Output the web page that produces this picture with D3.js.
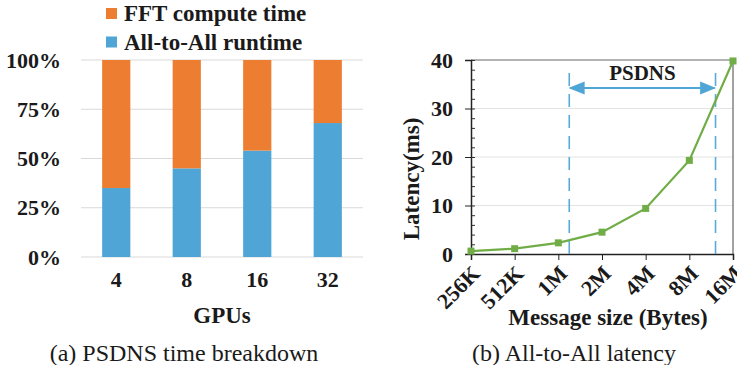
<!DOCTYPE html>
<html>
<head>
<meta charset="utf-8">
<script src="https://cdn.jsdelivr.net/npm/d3@7"></script>
<style>
  body { margin: 0; background: #fff; }
  svg { font-family: "Liberation Serif", "DejaVu Serif", serif; }
  .tick text { font-family: "Liberation Serif", serif; font-weight: bold; font-size: 22px; fill: #1a1a1a; }
</style>
</head>
<body>
<div id="chart"></div>
<script>
// data
var gpus = ["4", "8", "16", "32"];
var allToAll = [0.35, 0.45, 0.54, 0.68];
var fftCompute = [0.65, 0.55, 0.46, 0.32];
var pctTicks = [0, 0.25, 0.5, 0.75, 1];

var msgSizes = ["256K", "512K", "1M", "2M", "4M", "8M", "16M"];
var latency = [0.6, 1.1, 2.3, 4.5, 9.4, 19.3, 39.8];
var psdnsSpan = [2.25, 5.6]; // in message-size index units

var svg = d3.select("#chart").append("svg")
  .attr("width", 737)
  .attr("height", 365);

var orange = "#ED7D31", blue = "#4EA5D6", green = "#70AD47";

// ---------- (a) stacked bars ----------
var xBand = d3.scaleBand().domain(gpus).range([81, 363]).paddingInner(0.6).paddingOuter(0.3);
var yPct = d3.scaleLinear().domain([0, 1]).range([257, 60]);

var left = svg.append("g");

left.selectAll(".grid")
  .data(pctTicks)
  .enter().append("line")
  .attr("x1", 81).attr("x2", 363)
  .attr("y1", d => yPct(d)).attr("y2", d => yPct(d))
  .attr("stroke", "#d9d9d9").attr("stroke-width", 1);

var yAxisA = left.append("g")
  .attr("transform", "translate(81,0)")
  .call(d3.axisLeft(yPct).tickValues(pctTicks).tickFormat(d3.format(".0%")).tickSize(0).tickPadding(20));
yAxisA.select(".domain").remove();

var barData = gpus.map((g, i) => ({ g: g, a: allToAll[i], f: fftCompute[i] }));

left.selectAll(".barA")
  .data(barData)
  .enter().append("rect")
  .attr("x", d => xBand(d.g))
  .attr("width", xBand.bandwidth())
  .attr("y", d => yPct(d.a))
  .attr("height", d => yPct(0) - yPct(d.a))
  .attr("fill", blue);

left.selectAll(".barF")
  .data(barData)
  .enter().append("rect")
  .attr("x", d => xBand(d.g))
  .attr("width", xBand.bandwidth())
  .attr("y", d => yPct(d.a + d.f))
  .attr("height", d => yPct(d.a) - yPct(d.a + d.f))
  .attr("fill", orange);

var xAxisA = left.append("g")
  .attr("transform", "translate(0,257)")
  .call(d3.axisBottom(xBand).tickSize(0).tickPadding(14));
xAxisA.select(".domain").remove();

left.append("text")
  .attr("x", 222).attr("y", 323)
  .attr("text-anchor", "middle")
  .style("font-weight", "bold").style("font-size", "23px")
  .attr("fill", "#1a1a1a")
  .text("GPUs");

// legend
var legend = [["FFT compute time", orange], ["All-to-All runtime", blue]];
left.selectAll(".lg")
  .data(legend)
  .enter().append("rect")
  .attr("x", 106).attr("y", (d, i) => 8 + i * 28.5)
  .attr("width", 11).attr("height", 11)
  .attr("fill", d => d[1]);
left.selectAll(".lgt")
  .data(legend)
  .enter().append("text")
  .attr("x", 124).attr("y", (d, i) => 21 + i * 28.5)
  .style("font-weight", "bold").style("font-size", "23px")
  .attr("fill", "#1a1a1a")
  .text(d => d[0]);

left.append("text")
  .attr("x", 184).attr("y", 361)
  .attr("text-anchor", "middle")
  .style("font-size", "24px")
  .attr("fill", "#1a1a1a")
  .text("(a) PSDNS time breakdown");

// ---------- (b) latency line ----------
var xPt = d3.scalePoint().domain(msgSizes).range([471, 733]);
var xIdx = d3.scaleLinear().domain([0, msgSizes.length - 1]).range([471, 733]);
var yLat = d3.scaleLinear().domain([0, 40]).range([254, 60]);

var right = svg.append("g");

right.selectAll(".gridB")
  .data([10, 20, 30])
  .enter().append("line")
  .attr("x1", 471).attr("x2", 733)
  .attr("y1", d => yLat(d)).attr("y2", d => yLat(d))
  .attr("stroke", "#e3e3e3").attr("stroke-width", 1);

// frame top/right
right.append("line")
  .attr("x1", 471).attr("x2", 733)
  .attr("y1", yLat(40)).attr("y2", yLat(40))
  .attr("stroke", "#666").attr("stroke-width", 1);
right.append("line")
  .attr("x1", 733).attr("x2", 733)
  .attr("y1", yLat(40)).attr("y2", yLat(0))
  .attr("stroke", "#444").attr("stroke-width", 1);

// minor ticks inside
right.append("g")
  .attr("transform", "translate(471,0)")
  .call(d3.axisRight(yLat).ticks(20).tickSize(4).tickFormat(""))
  .call(g => g.select(".domain").remove())
  .selectAll("line").attr("stroke", "#333");

var yAxisB = right.append("g")
  .attr("transform", "translate(471,0)")
  .call(d3.axisLeft(yLat).tickValues([0, 10, 20, 30, 40]).tickSize(6).tickPadding(12));
yAxisB.select(".domain").attr("stroke", "#222").attr("stroke-width", 1.5);
yAxisB.selectAll("line").attr("stroke", "#222");

var xAxisB = right.append("g")
  .attr("transform", "translate(0,254)")
  .call(d3.axisBottom(xPt).tickSize(6).tickPadding(2));
xAxisB.select(".domain").attr("stroke", "#222").attr("stroke-width", 1.5);
xAxisB.selectAll("line").attr("stroke", "#222");
xAxisB.selectAll("text")
  .attr("text-anchor", "end")
  .attr("y", 0)
  .attr("dy", "0.7em")
  .attr("transform", "translate(-1,10) rotate(-45)");

// PSDNS span
right.selectAll(".dash")
  .data(psdnsSpan)
  .enter().append("line")
  .attr("x1", d => xIdx(d)).attr("x2", d => xIdx(d))
  .attr("y1", 73).attr("y2", yLat(0))
  .attr("stroke", "#5AAAD9").attr("stroke-width", 1.6)
  .attr("stroke-dasharray", "13,8");

var defs = svg.append("defs");
defs.append("marker")
  .attr("id", "arr").attr("viewBox", "0 0 10 10")
  .attr("refX", 9).attr("refY", 5)
  .attr("markerWidth", 8).attr("markerHeight", 8)
  .attr("orient", "auto-start-reverse")
  .append("path").attr("d", "M0,1 L10,5 L0,9 z").attr("fill", "#4EA5D6");

right.append("line")
  .attr("x1", xIdx(psdnsSpan[0]) + 1).attr("x2", xIdx(psdnsSpan[1]) - 1)
  .attr("y1", 88).attr("y2", 88)
  .attr("stroke", "#4EA5D6").attr("stroke-width", 2)
  .attr("marker-start", "url(#arr)").attr("marker-end", "url(#arr)");

right.append("text")
  .attr("x", (xIdx(psdnsSpan[0]) + xIdx(psdnsSpan[1])) / 2).attr("y", 80)
  .attr("text-anchor", "middle")
  .style("font-weight", "bold").style("font-size", "21px")
  .attr("fill", "#1a1a1a")
  .text("PSDNS");

var line = d3.line()
  .x((d, i) => xPt(msgSizes[i]))
  .y(d => yLat(d));

right.append("path")
  .datum(latency)
  .attr("d", line)
  .attr("fill", "none")
  .attr("stroke", green).attr("stroke-width", 2.2);

right.selectAll(".pt")
  .data(latency)
  .enter().append("rect")
  .attr("x", (d, i) => xPt(msgSizes[i]) - 3.5)
  .attr("y", d => yLat(d) - 3.5)
  .attr("width", 7).attr("height", 7)
  .attr("fill", green);

right.append("text")
  .attr("transform", "translate(419,179) rotate(-90)")
  .attr("text-anchor", "middle")
  .style("font-weight", "bold").style("font-size", "23px")
  .attr("fill", "#1a1a1a")
  .text("Latency(ms)");

right.append("text")
  .attr("x", 608).attr("y", 325)
  .attr("text-anchor", "middle")
  .style("font-weight", "bold").style("font-size", "23px")
  .attr("fill", "#1a1a1a")
  .text("Message size (Bytes)");

right.append("text")
  .attr("x", 574).attr("y", 361)
  .attr("text-anchor", "middle")
  .style("font-size", "24px")
  .attr("fill", "#1a1a1a")
  .text("(b) All-to-All latency");
</script>
</body>
</html>
